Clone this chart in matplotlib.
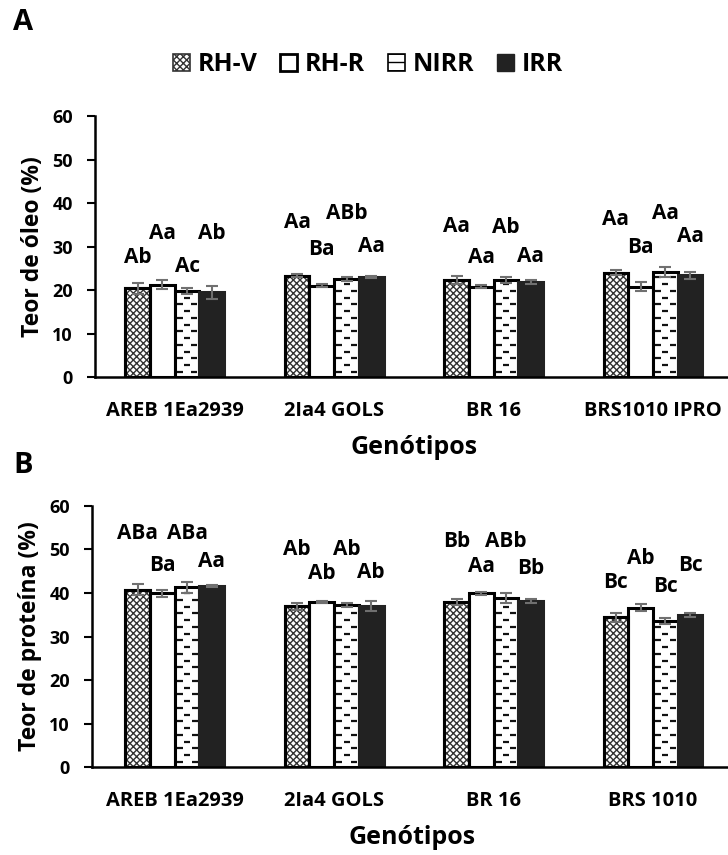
import matplotlib
matplotlib.use('Agg')
import matplotlib.pyplot as plt
from matplotlib.patches import Patch
import numpy as np

plt.rcParams['font.family'] = ['Open Sans', 'DejaVu Sans']
plt.rcParams['font.weight'] = 'bold'
plt.rcParams['hatch.linewidth'] = 1.0

series = ['RH-V', 'RH-R', 'NIRR', 'IRR']

# painel A - teor de oleo
genotipos_a = ['AREB 1Ea2939', '2Ia4 GOLS', 'BR 16', 'BRS1010 IPRO']
oleo = [[20.4, 23.3, 22.3, 24.0],
        [21.2, 21.0, 20.8, 20.8],
        [19.8, 22.5, 22.3, 24.2],
        [19.5, 23.0, 21.9, 23.4]]
oleo_err = [[1.3, 0.4, 0.9, 0.6],
            [1.0, 0.4, 0.3, 1.1],
            [0.7, 0.4, 0.7, 1.2],
            [1.5, 0.3, 0.4, 0.8]]
oleo_letras = [['Ab', 'Aa', 'Aa', 'Aa'],
               ['Aa', 'Ba', 'Aa', 'Ba'],
               ['Ac', 'ABb', 'Ab', 'Aa'],
               ['Ab', 'Aa', 'Aa', 'Aa']]
oleo_letras_y = [[27.5, 35.6, 34.7, 36.3],
                 [33.0, 29.4, 27.4, 29.7],
                 [25.5, 37.5, 34.3, 37.7],
                 [33.0, 29.9, 27.8, 32.2]]

# painel B - teor de proteina
genotipos_b = ['AREB 1Ea2939', '2Ia4 GOLS', 'BR 16', 'BRS 1010']
proteina = [[40.8, 37.0, 37.9, 34.4],
            [39.9, 38.0, 39.9, 36.6],
            [41.3, 37.2, 38.9, 33.6],
            [41.6, 37.0, 38.2, 34.9]]
proteina_err = [[1.2, 0.8, 0.7, 1.1],
                [0.8, 0.2, 0.3, 0.8],
                [1.3, 0.5, 1.2, 0.7],
                [0.3, 1.2, 0.5, 0.4]]
proteina_letras = [['ABa', 'Ab', 'Bb', 'Bc'],
                   ['Ba', 'Ab', 'Aa', 'Ab'],
                   ['ABa', 'Ab', 'ABb', 'Bc'],
                   ['Aa', 'Ab', 'Bb', 'Bc']]
proteina_letras_y = [[53.6, 49.9, 51.9, 42.5],
                     [46.4, 44.4, 46.2, 48.0],
                     [53.6, 49.9, 51.9, 41.4],
                     [47.3, 44.6, 45.7, 46.4]]

estilos = [dict(facecolor='white', hatch='xxxxx', edgecolor='#333333'),
           dict(facecolor='white', edgecolor='black'),
           dict(facecolor='white', edgecolor='black'),
           dict(facecolor='#222222', edgecolor='#222222')]

largura = 0.155


def tracos(ax, cx, h, w):
    # padrao de tracos das barras NIRR
    ys = np.arange(1.2, h - 0.6, 1.55)
    for k, y in enumerate(ys):
        if k % 2 == 0:
            xs = [cx - w * 0.3, cx + w * 0.3]
        else:
            xs = [cx]
        ax.plot(xs, [y] * len(xs), ls='none', marker='_', ms=4.5,
                mew=1.6, color='#111111', zorder=4)


def painel(ax, genotipos, valores, erros, letras, letras_y, ylabel, x0):
    x = np.arange(len(genotipos))
    for i in range(4):
        pos = x + (i - 1.5) * largura
        st = estilos[i]
        ax.bar(pos, valores[i], largura, linewidth=2.2, zorder=2,
               facecolor=st['facecolor'], hatch=st.get('hatch'),
               edgecolor=st['edgecolor'])
        if st.get('hatch'):
            # contorno preto por cima da trama
            ax.bar(pos, valores[i], largura, facecolor='none',
                   edgecolor='black', linewidth=2.2, zorder=3)
        if i == 2:
            for p, v in zip(pos, valores[i]):
                tracos(ax, p, v, largura)
        ax.errorbar(pos, valores[i], yerr=erros[i], fmt='none',
                    ecolor='#707070', elinewidth=1.5, capsize=4,
                    capthick=1.5, zorder=5)
        for p, lt, ly in zip(pos, letras[i], letras_y[i]):
            ax.text(p, ly, lt, ha='center', va='center', fontsize=15,
                    fontweight='bold')
    ax.set_xlim(x0, 3.5)
    ax.set_ylim(0, 60)
    ax.set_yticks(range(0, 61, 10))
    ax.set_xticks(x)
    ax.set_xticklabels(genotipos, fontsize=14.5, fontweight='bold')
    ax.tick_params(axis='x', length=0, pad=17)
    ax.tick_params(axis='y', length=6, width=1.5, pad=10, labelsize=13)
    for lb in ax.get_yticklabels():
        lb.set_fontweight('bold')
    for s in ['top', 'right']:
        ax.spines[s].set_visible(False)
    ax.spines['left'].set_linewidth(1.8)
    ax.spines['bottom'].set_linewidth(1.8)
    ax.set_ylabel(ylabel, fontsize=16.5, fontweight='bold', labelpad=5)
    ax.set_xlabel('Genótipos', fontsize=18, fontweight='bold', labelpad=10)


fig = plt.figure(figsize=(7.28, 8.55), dpi=100)
ax1 = fig.add_axes([0.1305, 0.559, 0.8760, 0.3053])
ax2 = fig.add_axes([0.1264, 0.1029, 0.8801, 0.3053])

painel(ax1, genotipos_a, oleo, oleo_err, oleo_letras, oleo_letras_y,
       'Teor de óleo (%)', -0.5)
painel(ax2, genotipos_b, proteina, proteina_err, proteina_letras,
       proteina_letras_y, 'Teor de proteína (%)', -0.519)

fig.text(0.018, 0.974, 'A', fontsize=21, fontweight='bold', va='center')
fig.text(0.018, 0.455, 'B', fontsize=21, fontweight='bold', va='center')

handles = [Patch(facecolor='white', hatch='xxxxx', edgecolor='#333333', lw=1.2),
           Patch(facecolor='white', edgecolor='black', lw=2),
           Patch(facecolor='white', hatch='--', edgecolor='black', lw=1.2),
           Patch(facecolor='#222222', edgecolor='#222222')]
fig.legend(handles, series, loc='center left', bbox_to_anchor=(0.237, 0.924),
           ncol=4, frameon=False, prop={'weight': 'bold', 'size': 18},
           handlelength=0.7, handleheight=0.7, handletextpad=0.3,
           columnspacing=0.9, borderpad=0, borderaxespad=0)

fig.savefig('out.png', dpi=100)
